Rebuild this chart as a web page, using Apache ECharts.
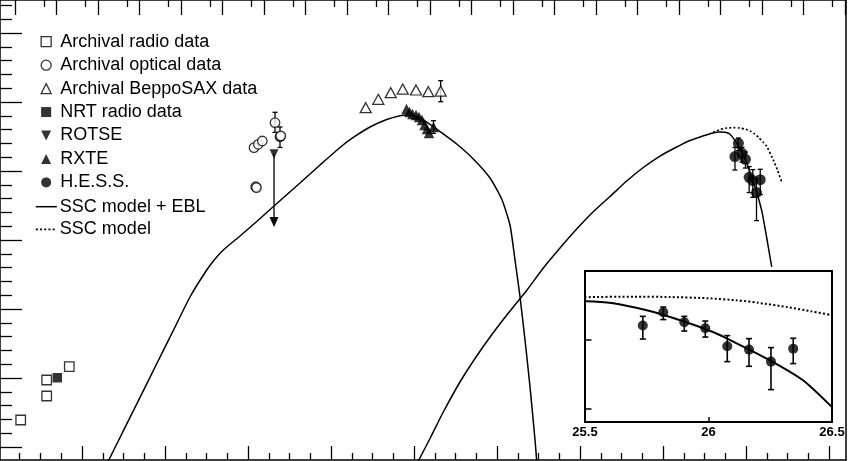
<!DOCTYPE html>
<html><head><meta charset="utf-8">
<script src="https://cdn.jsdelivr.net/npm/echarts@6/dist/echarts.min.js"></script>
<style>html,body{margin:0;padding:0;background:#fff}#c{width:850px;height:461px}</style>
</head><body><div id="c"></div>
<script>
// ---------- data (x = log10 frequency [Hz], y = log10 nuFnu) ----------
const radioArchX = [8.523, 9.149, 9.149, 9.694];
const radioArchY = [-14.609, -14.029, -14.261, -13.836];
const radioNrtX = [9.405];
const radioNrtY = [-13.996];
const opticalX = [14.145, 14.248, 14.345, 14.186, 14.204, 14.651, 14.771, 14.790];
const opticalY = [-10.662, -10.613, -10.565, -11.228, -11.240, -10.300, -10.503, -10.490];
const opticalErrX = [14.651, 14.771];
const opticalErrLo = [-10.440, -10.659];
const opticalErrHi = [-10.149, -10.362];
const saxX = [16.836, 17.140, 17.439, 17.728, 18.048, 18.345, 18.643];
const saxY = [-10.083, -9.961, -9.865, -9.812, -9.826, -9.851, -9.841];
const saxErrX = [18.643];
const saxErrLo = [-9.996];
const saxErrHi = [-9.691];
const rotseX = [14.627];
const rotseY = [-10.754];
const rotseArrowTo = [-11.81];
const rxteX = [17.819, 17.892, 17.964, 18.048, 18.120, 18.193, 18.253, 18.313, 18.361, 18.470];
const rxteY = [-10.101, -10.145, -10.174, -10.188, -10.217, -10.261, -10.333, -10.391, -10.449, -10.362];
const rxteErrX = [18.470];
const rxteErrLo = [-10.454];
const rxteErrHi = [-10.271];
const hessX = [25.734, 25.817, 25.902, 25.987, 26.076, 26.164, 26.253, 26.343];
const hessY = [-10.791, -10.599, -10.743, -10.830, -11.091, -11.139, -11.313, -11.125];
const hessLo = [-10.986, -10.704, -10.870, -10.957, -11.313, -11.381, -11.719, -11.342];
const hessHi = [-10.657, -10.522, -10.657, -10.725, -10.936, -10.980, -11.110, -10.975];
// SSC model + EBL : synchrotron bump
const synX = [10.634, 10.995, 11.398, 11.800, 12.200, 12.602, 13.005, 13.205, 13.405, 13.807, 14.210, 14.627, 15.253, 15.735, 16.217, 16.537, 16.940, 17.342, 17.663, 17.824, 18.065, 18.306, 18.627, 19.029, 19.429, 19.831, 20.113, 20.313, 20.434, 20.554, 20.675, 20.795, 20.916, 20.957];
const synY = [-15.203, -14.767, -14.281, -13.794, -13.312, -12.826, -12.435, -12.275, -12.145, -11.942, -11.732, -11.507, -11.174, -10.913, -10.659, -10.514, -10.362, -10.254, -10.199, -10.188, -10.210, -10.290, -10.428, -10.609, -10.826, -11.101, -11.406, -11.783, -12.290, -12.822, -13.449, -14.126, -14.899, -15.203];
// SSC model + EBL : inverse Compton bump
const icX = [18.104, 18.386, 18.706, 19.108, 19.511, 19.904, 20.313, 20.723, 21.116, 21.518, 21.920, 22.313, 22.723, 23.125, 23.525, 23.928, 24.330, 24.650, 24.892, 25.205, 25.350, 25.500, 25.608, 25.750, 25.885, 26.018, 26.114, 26.249, 26.383, 26.500, 26.620];
const icY = [-15.203, -14.877, -14.493, -14.058, -13.681, -13.348, -13.029, -12.725, -12.406, -12.116, -11.841, -11.594, -11.370, -11.145, -10.949, -10.783, -10.652, -10.558, -10.507, -10.449, -10.436, -10.439, -10.464, -10.570, -10.714, -10.884, -11.048, -11.294, -11.584, -11.971, -12.390];
// SSC model (no EBL)
const sscX = [25.210, 25.350, 25.500, 25.700, 25.844, 26.000, 26.114, 26.200, 26.317, 26.417, 26.499, 26.658, 26.760, 26.860];
const sscY = [-10.440, -10.405, -10.380, -10.372, -10.377, -10.395, -10.425, -10.460, -10.522, -10.585, -10.642, -10.841, -10.990, -11.155];
// ticks
const xMajorTicks = [10, 12, 14, 16, 18, 20, 22, 24, 26, 28];
const xMinorTicks = [8.5, 9, 9.5, 10.5, 11, 11.5, 12.5, 13, 13.5, 14.5, 15, 15.5, 16.5, 17, 17.5, 18.5, 19, 19.5, 20.5, 21, 21.5, 22.5, 23, 23.5, 24.5, 25, 25.5, 26.5, 27, 27.5];
const topEnergyMajor = [-6, -5, -4, -3, -2, -1, 0, 1, 2, 3, 4, 5, 6, 7, 8, 9, 10, 11, 12, 13, 14];   // log10 E[eV]
const topEnergyMinor = [-6, -5, -4, -3, -2, -1, 0, 1, 2, 3, 4, 5, 6, 7, 8, 9, 10, 11, 12, 13];      // 5 x 10^E
const yMajorTicks = [-15, -14, -13, -12, -11, -10, -9];
const yMinorTicks = [-14.8, -14.6, -14.4, -14.2, -13.8, -13.6, -13.4, -13.2, -12.8, -12.6, -12.4, -12.2, -11.8, -11.6, -11.4, -11.2, -10.8, -10.6, -10.4, -10.2, -9.8, -9.6, -9.4, -9.2, -8.8, -8.6];
const insetXTicks = [26];
const insetYTicks = [-12, -11];
const LOG_NU_PER_EV = 14.383;

// ---------- helpers ----------
const pts = (xs, ys) => xs.map((x, i) => [x, ys[i]]);
const errData = (xs, lo, hi) => xs.map((x, i) => [x, lo[i], hi[i]]);
const FONT = "'Liberation Sans', Arial, Helvetica, sans-serif";
const K = '#000';

function errSeries(name, data, cap, lw, xi, yi) {
  return {
    type: 'custom', name, data, xAxisIndex: xi, yAxisIndex: yi, z: 4, silent: true, clip: true,
    encode: { x: 0, y: [1, 2] },
    renderItem: function (params, api) {
      const x = api.value(0), lo = api.value(1), hi = api.value(2);
      const a = api.coord([x, hi]), b = api.coord([x, lo]);
      const st = { stroke: K, lineWidth: lw };
      return { type: 'group', children: [
        { type: 'line', shape: { x1: a[0], y1: a[1], x2: b[0], y2: b[1] }, style: st },
        { type: 'line', shape: { x1: a[0] - cap, y1: a[1], x2: a[0] + cap, y2: a[1] }, style: st },
        { type: 'line', shape: { x1: b[0] - cap, y1: b[1], x2: b[0] + cap, y2: b[1] }, style: st }
      ]};
    }
  };
}
function scat(name, xs, ys, symbol, size, filled, xi, yi) {
  return {
    type: 'scatter', name, data: pts(xs, ys), symbol, symbolSize: size,
    xAxisIndex: xi || 0, yAxisIndex: yi || 0, z: 6, silent: true,
    itemStyle: filled ? { color: K } : { color: '#fff', borderColor: K, borderWidth: 1.3 }
  };
}
function lineS(name, xs, ys, dotted, width, xi, yi) {
  return {
    type: 'line', name, data: pts(xs, ys), symbol: 'none', showSymbol: false,
    smooth: 0.2, xAxisIndex: xi || 0, yAxisIndex: yi || 0, z: 3, silent: true, clip: true,
    itemStyle: { color: K },
    lineStyle: { color: K, width: width, type: dotted ? [2, 2.2] : 'solid' }
  };
}

// ---------- layout of main frame ----------
const X_MIN = 8.0241, X_MAX = 28.4096;     // grid left 0 .. right 846
const Y_MIN = -15.1884, Y_MAX = -8.5217;   // grid bottom 460 .. top 0
const DOWN_TRI = 'path://M0,0L10,0L5,10Z';

const hidden = { show: false };
function tickAxis(pos, ticks, len, showLine, extra) {
  return Object.assign({
    type: 'value', position: pos, gridIndex: 0, scale: true,
    axisLine: { show: showLine, onZero: false, lineStyle: { color: K, width: 1.5 } },
    axisTick: { show: true, inside: true, length: len, customValues: ticks, lineStyle: { color: K, width: 1.3 } },
    axisLabel: hidden, splitLine: hidden, minorTick: hidden
  }, extra);
}
const noDot = { color: 'rgba(0,0,0,0)', borderWidth: 0, opacity: 0 };

const option = {
  animation: false,
  backgroundColor: '#fff',
  grid: [
    { left: 0, right: 4, top: 0, bottom: 1, outerBoundsMode: 'none', containLabel: false },
    { left: 585, top: 271, width: 247, height: 151, outerBoundsMode: 'none', containLabel: false,
      show: true, backgroundColor: '#fff', borderColor: K, borderWidth: 2, z: 10 }
  ],
  xAxis: [
    tickAxis('bottom', xMajorTicks, 14, true, { min: X_MIN, max: X_MAX }),
    tickAxis('bottom', xMinorTicks, 7, false, { min: X_MIN, max: X_MAX }),
    tickAxis('top', topEnergyMajor.map(e => e + LOG_NU_PER_EV), 15, true, { min: X_MIN, max: X_MAX }),
    tickAxis('top', topEnergyMinor.map(e => e + Math.log10(5) + LOG_NU_PER_EV), 7, false, { min: X_MIN, max: X_MAX }),
    { type: 'value', gridIndex: 1, position: 'bottom', min: 25.5, max: 26.5, interval: 0.5, z: 11,
      axisLine: { show: false, onZero: false },
      axisTick: { show: true, inside: true, length: 5, customValues: insetXTicks, lineStyle: { color: K, width: 1.5 } },
      axisLabel: { show: true, margin: 4, color: K, fontFamily: FONT, fontWeight: 'bold', fontSize: 13,
        showMinLabel: true, showMaxLabel: true, formatter: v => String(v) },
      splitLine: hidden }
  ],
  yAxis: [
    tickAxis('left', yMajorTicks, 22, true, { min: Y_MIN, max: Y_MAX }),
    tickAxis('left', yMinorTicks, 12, false, { min: Y_MIN, max: Y_MAX }),
    { type: 'value', gridIndex: 0, position: 'right', min: Y_MIN, max: Y_MAX,
      axisLine: { show: true, onZero: false, lineStyle: { color: K, width: 1.5 } },
      axisTick: hidden, axisLabel: hidden, splitLine: hidden },
    { type: 'value', gridIndex: 1, position: 'left', min: -12.188, max: -10, z: 11,
      axisLine: { show: false, onZero: false },
      axisTick: { show: true, inside: true, length: 6.5, customValues: insetYTicks, lineStyle: { color: K, width: 1.5 } },
      axisLabel: hidden, splitLine: hidden }
  ],
  legend: [
    { orient: 'vertical', left: 40.5, top: 32.7, padding: 0, itemWidth: 10, itemHeight: 10, itemGap: 5.45,
      selectedMode: false,
      textStyle: { fontSize: 18, lineHeight: 18, fontFamily: FONT, color: K, padding: [0, 0, 0, 4] },
      data: [
        { name: 'Archival radio data', icon: 'rect', itemStyle: { color: '#fff', borderColor: K, borderWidth: 1.3 } },
        { name: 'Archival optical data', icon: 'circle', itemStyle: { color: '#fff', borderColor: K, borderWidth: 1.3 } },
        { name: 'Archival BeppoSAX data', icon: 'triangle', itemStyle: { color: '#fff', borderColor: K, borderWidth: 1.3 } },
        { name: 'NRT radio data', icon: 'rect', itemStyle: { color: K, borderWidth: 0 } },
        { name: 'ROTSE', icon: DOWN_TRI, itemStyle: { color: K, borderWidth: 0 } },
        { name: 'RXTE', icon: 'triangle', itemStyle: { color: K, borderWidth: 0 } },
        { name: 'H.E.S.S.', icon: 'circle', itemStyle: { color: K, borderWidth: 0 } }
      ] },
    { orient: 'vertical', left: 35, top: 197.7, padding: 0, itemWidth: 21, itemHeight: 10, itemGap: 4.6,
      selectedMode: false,
      textStyle: { fontSize: 18, lineHeight: 18, fontFamily: FONT, color: K, padding: [0, 0, 0, -2] },
      data: [
        { name: 'SSC model + EBL', itemStyle: noDot, lineStyle: { color: K, width: 1.5, type: 'solid' } },
        { name: 'SSC model', itemStyle: noDot, lineStyle: { color: K, width: 1.7, type: [2, 2.2] } }
      ] }
  ],
  series: [
    lineS('SSC model + EBL', synX, synY, false, 1.5),
    lineS('SSC model + EBL', icX, icY, false, 1.5),
    lineS('SSC model', sscX, sscY, true, 1.7),
    errSeries('optical errors', errData(opticalErrX, opticalErrLo, opticalErrHi), 2.5, 1.3, 0, 0),
    errSeries('sax errors', errData(saxErrX, saxErrLo, saxErrHi), 2.5, 1.3, 0, 0),
    errSeries('rxte errors', errData(rxteErrX, rxteErrLo, rxteErrHi), 2.5, 1.3, 0, 0),
    errSeries('hess errors', errData(hessX, hessLo, hessHi), 2.5, 1.3, 0, 0),
    { type: 'custom', name: 'rotse limit', xAxisIndex: 0, yAxisIndex: 0, z: 4, silent: true,
      data: rotseX.map((x, i) => [x, rotseY[i], rotseArrowTo[i]]), encode: { x: 0, y: [1, 2] },
      renderItem: function (params, api) {
        const a = api.coord([api.value(0), api.value(1)]), b = api.coord([api.value(0), api.value(2)]);
        return { type: 'group', children: [
          { type: 'line', shape: { x1: a[0], y1: a[1], x2: b[0], y2: b[1] - 6 }, style: { stroke: K, lineWidth: 1.3 } },
          { type: 'polygon', shape: { points: [[b[0] - 4.5, b[1] - 10], [b[0] + 4.5, b[1] - 10], [b[0], b[1]]] }, style: { fill: K } }
        ]};
      } },
    scat('Archival radio data', radioArchX, radioArchY, 'rect', 9.5, false),
    scat('NRT radio data', radioNrtX, radioNrtY, 'rect', 9.5, true),
    scat('Archival optical data', opticalX, opticalY, 'circle', 9.5, false),
    scat('Archival BeppoSAX data', saxX, saxY, 'triangle', [11, 10], false),
    scat('ROTSE', rotseX, rotseY, DOWN_TRI, [9, 9.5], true),
    scat('RXTE', rxteX, rxteY, 'triangle', [10.5, 10.5], true),
    scat('H.E.S.S.', hessX, hessY, 'circle', 11, true),
    // inset
    Object.assign(lineS('inset SSC model + EBL', icX, icY, false, 2, 4, 3), { z: 12 }),
    Object.assign(lineS('inset SSC model', sscX, sscY, true, 2, 4, 3), { z: 12 }),
    Object.assign(errSeries('inset hess errors', errData(hessX, hessLo, hessHi), 3, 1.6, 4, 3), { z: 13 }),
    Object.assign(scat('inset H.E.S.S.', hessX, hessY, 'circle', 10, true, 4, 3), { z: 14 })
  ]
};

const chart = echarts.init(document.getElementById('c'), null, { renderer: 'canvas' });
chart.setOption(option);
</script>
</body></html>
